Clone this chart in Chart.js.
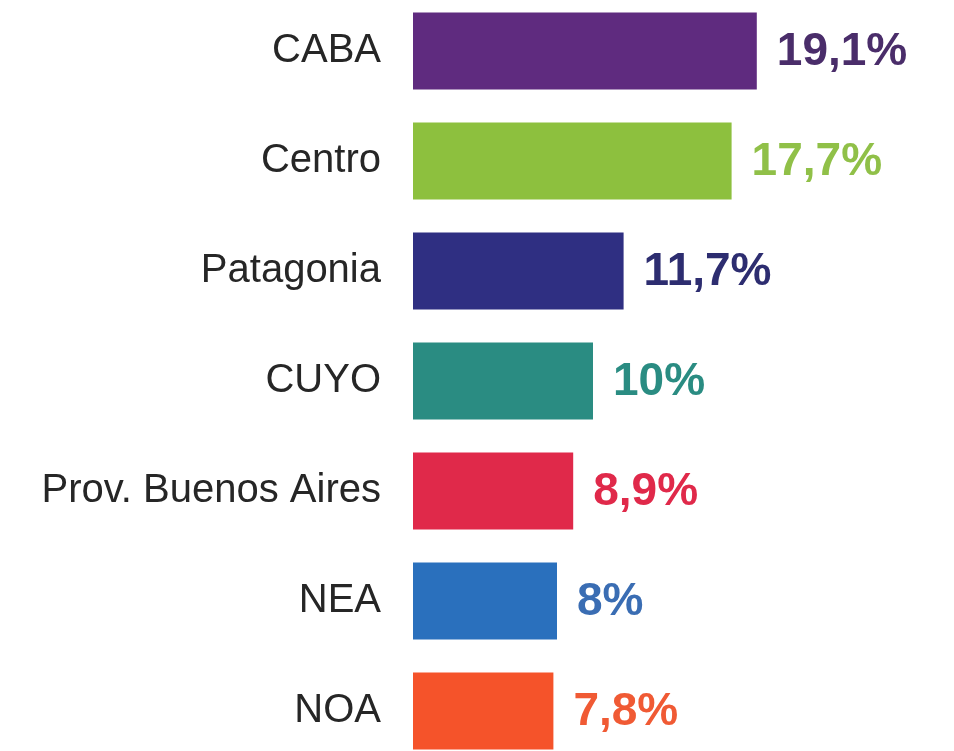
<!DOCTYPE html>
<html>
<head>
<meta charset="utf-8">
<script src="https://cdn.jsdelivr.net/npm/chart.js@4"></script>
<style>
  html, body { margin:0; padding:0; background:#fff; overflow:hidden; width:954px; height:751px; }
  #wrap { position:absolute; left:0; top:-4px; width:954px; height:770px; }
</style>
</head>
<body>
<div id="wrap"><canvas id="c"></canvas></div>
<script>
const categories = ["CABA", "Centro", "Patagonia", "CUYO", "Prov. Buenos Aires", "NEA", "NOA"];
const values = [19.1, 17.7, 11.7, 10, 8.9, 8, 7.8];
const valueLabels = ["19,1%", "17,7%", "11,7%", "10%", "8,9%", "8%", "7,8%"];
const barColors = ["#5f2b7f", "#8dc03e", "#2f2f82", "#2a8c82", "#e0294a", "#2a70bd", "#f5532a"];
const labelColors = ["#4a2d6a", "#90c048", "#2d2d70", "#2a8c82", "#e0294a", "#3a6db3", "#f05a34"];

const valuePlugin = {
  id: 'valueLabels',
  afterDatasetsDraw(chart) {
    const ctx = chart.ctx;
    const meta = chart.getDatasetMeta(0);
    ctx.save();
    ctx.font = 'bold 46px "Liberation Sans", Arial, sans-serif';
    ctx.textAlign = 'left';
    ctx.textBaseline = 'middle';
    meta.data.forEach((bar, i) => {
      ctx.fillStyle = labelColors[i];
      ctx.fillText(valueLabels[i], bar.x + 20, bar.y + 1);
    });
    ctx.restore();
  }
};

new Chart(document.getElementById('c'), {
  type: 'bar',
  data: {
    labels: categories,
    datasets: [{
      data: values,
      backgroundColor: barColors,
      borderWidth: 0,
      barPercentage: 0.7,
      categoryPercentage: 1.0
    }]
  },
  options: {
    indexAxis: 'y',
    responsive: true,
    maintainAspectRatio: false,
    animation: false,
    layout: { padding: { left: 0, right: 1, top: 0, bottom: 0 } },
    plugins: { legend: { display: false }, tooltip: { enabled: false } },
    scales: {
      x: {
        display: false,
        min: 0,
        max: 30
      },
      y: {
        afterFit(scale) {
          scale.width = 413;
          scale.paddingTop = 0;
          scale.paddingBottom = 0;
        },
        grid: { display: false, drawTicks: false },
        border: { display: false },
        ticks: {
          padding: 32,
          color: '#262626',
          font: { family: '"Liberation Sans", Arial, sans-serif', size: 40 }
        }
      }
    }
  },
  plugins: [valuePlugin]
});
</script>
</body>
</html>
